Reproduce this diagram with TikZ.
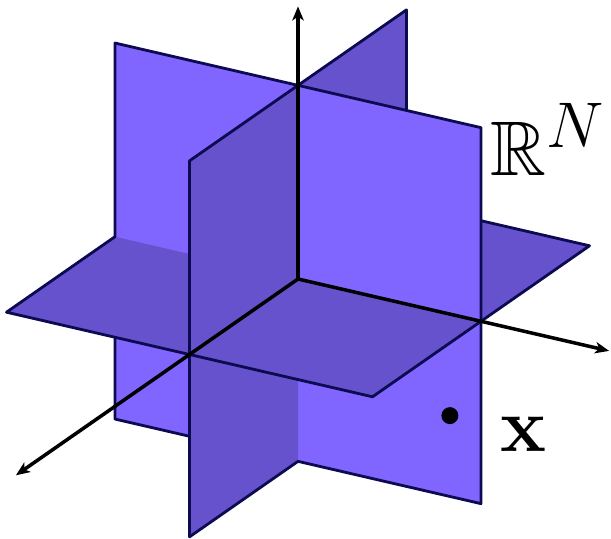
\documentclass[tikz,border=0pt]{standalone}
\usepackage{amsmath,amssymb}
\usepackage{xcolor}
\usepackage{tikz}
\usetikzlibrary{arrows.meta}
\definecolor{planelite}{RGB}{128,102,255}
\definecolor{planedark}{RGB}{102,82,204}
\definecolor{planeedge}{RGB}{12,10,80}

\begin{document}
\begin{tikzpicture}[x={(3.66cm,-0.846cm)}, y={(-2.17cm,-1.51cm)}, z={(0cm,3.76cm)}, lite/.style={fill=planelite}, dark/.style={fill=planedark}, rim/.style={draw=planeedge,line width=1.6pt,line join=round,line cap=round}, axis/.style={-{Stealth[length=8pt,width=6.5pt,inset=2.2pt]},line width=2pt,line cap=round}, lbl/.style={anchor=base west,inner sep=0pt,font=\Huge,scale=1.77}]
\useasboundingbox (canvas cs:x=-5.96cm,y=5.58cm) rectangle (canvas cs:x=6.26cm,y=-5.2cm);
\coordinate (O) at (0,0,0);
\coordinate (ztip) at (0,0,1.45);
\coordinate (stip) at (1.7,0,0);
\coordinate (ttip) at (0,2.6,0);
% quarters, back to front
\fill[dark] (O) -- (-1,0,0) -- (-1,-1,0) -- (0,-1,0) -- cycle;
\draw[rim] (-1,0,0) -- (-1,-1,0) -- (0,-1,0);
\fill[dark] (O) -- (0,-1,0) -- (0,-1,-0.97) -- (0,0,-0.97) -- cycle;
\draw[rim] (0,-1,0) -- (0,-1,-0.97) -- (0,0,-0.97);
\fill[lite] (O) -- (-1,0,0) -- (-1,0,-0.97) -- (0,0,-0.97) -- cycle;
\draw[rim] (-1,0,0) -- (-1,0,-0.97) -- (0,0,-0.97);
\fill[dark] (O) -- (0,-1,0) -- (0,-1,1.03) -- (0,0,1.03) -- cycle;
\draw[rim] (0,-1,0) -- (0,-1,1.03) -- (0,0,1.03);
\fill[dark] (O) -- (1,0,0) -- (1,-1,0) -- (0,-1,0) -- cycle;
\draw[rim] (1,0,0) -- (1,-1,0) -- (0,-1,0);
\fill[lite] (O) -- (-1,0,0) -- (-1,0,1.03) -- (0,0,1.03) -- cycle;
\draw[rim] (-1,0,0) -- (-1,0,1.03) -- (0,0,1.03);
\fill[lite] (O) -- (1,0,0) -- (1,0,-0.97) -- (0,0,-0.97) -- cycle;
\draw[rim] (1,0,0) -- (1,0,-0.97) -- (0,0,-0.97);
\fill[dark] (O) -- (-1,0,0) -- (-1,1,0) -- (0,1,0) -- cycle;
\draw[rim] (-1,0,0) -- (-1,1,0) -- (0,1,0);
\fill[dark] (O) -- (0,1,0) -- (0,1,-0.97) -- (0,0,-0.97) -- cycle;
\draw[rim] (0,1,0) -- (0,1,-0.97) -- (0,0,-0.97);
\fill[lite] (O) -- (1,0,0) -- (1,0,1.03) -- (0,0,1.03) -- cycle;
\draw[rim] (1,0,0) -- (1,0,1.03) -- (0,0,1.03);
\fill[dark] (O) -- (0,1,0) -- (0,1,1.03) -- (0,0,1.03) -- cycle;
\draw[rim] (0,1,0) -- (0,1,1.03) -- (0,0,1.03);
\fill[dark] (O) -- (1,0,0) -- (1,1,0) -- (0,1,0) -- cycle;
\draw[rim] (1,0,0) -- (1,1,0) -- (0,1,0);
% axes
\draw[axis] (O) -- (ztip);
\draw[axis] (O) -- (stip);
\draw[axis] (O) -- (ttip);
\node[circle,fill,inner sep=0pt,minimum size=0.34cm] (pt) at (0.83,0,-0.54) {};
\node[lbl] (space) at (canvas cs:x=3.84cm,y=2.06cm) {$\mathbb{R}^N$};
\node[lbl] (ptname) at (canvas cs:x=4.04cm,y=-3.45cm) {$\mathbf{x}$};
\end{tikzpicture}
\end{document}
